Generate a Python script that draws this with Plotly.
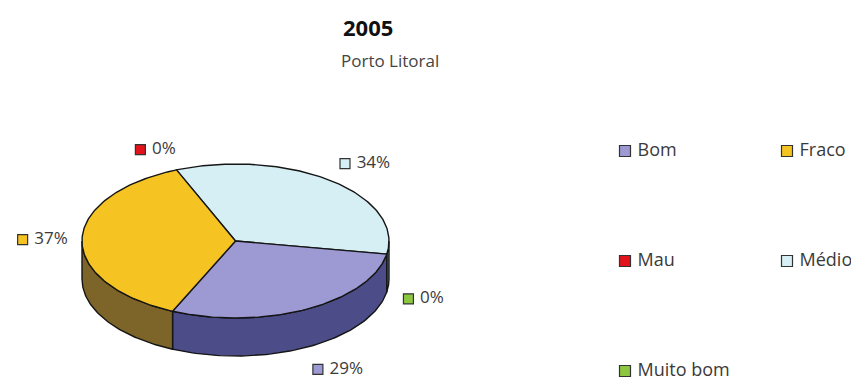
import numpy as np
import plotly.graph_objects as go

# ---- data -------------------------------------------------------------
categories = ["Bom", "Fraco", "Mau", "Médio", "Muito bom"]
percentages = [29, 37, 0, 34, 0]
top_colors = ["#9c99d3", "#f5c322", "#e3121b", "#d5eff4", "#8dc63f"]
side_colors = ["#4c4d88", "#7d6428", "#7a0a0e", "#6f8d93", "#4a6a20"]
clockwise_order = ["Médio", "Muito bom", "Bom", "Fraco", "Mau"]
title_text = "2005"
subtitle_text = "Porto Litoral"

# ---- geometry (pixel-like axis units) ----------------------------------
W, H = 851, 383
CX, CY, RX, RY, DEPTH = 235.5, 241.0, 153.5, 77.0, 38.0
START_ANGLE = -22.6          # degrees, clockwise from 12 o'clock
LABEL_GAP = 22
FRONT = (90.0, 270.0)        # visible part of the rim
OUTLINE = "#151515"
FONT = "Open Sans"
TEXT_COLOR = "#3a3a3a"
PAD = "\u00a0"               # small gap between colour key and text

LEG_X0, LEG_DX, LEG_Y0, LEG_DY, LEG_COLS = 625, 162, 151, 110, 2


def rim(a0, a1, drop=0.0, n=80):
    t = np.radians(np.linspace(a0, a1, n))
    return CX + RX * np.sin(t), CY - RY * np.cos(t) + drop


idx = {c: i for i, c in enumerate(categories)}
total = float(sum(percentages))

# angular extent of every slice
spans = []
a = START_ANGLE
for name in clockwise_order:
    i = idx[name]
    sweep = 360.0 * percentages[i] / total
    spans.append((name, a, a + sweep))
    a += sweep

fig = go.Figure()

# side walls of the front half
for name, a0, a1 in spans:
    lo, hi = max(a0, FRONT[0]), min(a1, FRONT[1])
    if hi <= lo:
        continue
    xt, yt = rim(lo, hi)
    xb, yb = rim(hi, lo, DEPTH)
    fig.add_trace(go.Scatter(
        x=np.concatenate([xt, xb, xt[:1]]),
        y=np.concatenate([yt, yb, yt[:1]]),
        mode="lines", fill="toself",
        fillcolor=side_colors[idx[name]],
        line=dict(color=OUTLINE, width=1.4),
        hoverinfo="skip", showlegend=False))

# top faces
for name, a0, a1 in spans:
    if a1 - a0 <= 0:
        continue
    xt, yt = rim(a0, a1, n=120)
    fig.add_trace(go.Scatter(
        x=np.concatenate([[CX], xt, [CX]]),
        y=np.concatenate([[CY], yt, [CY]]),
        mode="lines", fill="toself",
        fillcolor=top_colors[idx[name]],
        line=dict(color=OUTLINE, width=1.4),
        hoverinfo="text", text=f"{name}: {percentages[idx[name]]}%",
        showlegend=False))


# percentage labels with colour keys
def text_width(s, size=17):
    return sum(0.82 * size if ch == "%" else 0.572 * size for ch in s)


lx, ly, ltxt, lcol = [], [], [], []
for name, a0, a1 in spans:
    mid = np.radians((a0 + a1) / 2)
    s, c = np.sin(mid), np.cos(mid)
    x = CX + (RX + LABEL_GAP) * s
    y = CY - (RY + LABEL_GAP) * c + (DEPTH + 3 if c < 0 else 0)
    label = f"{percentages[idx[name]]}%"
    if s < 0:  # left side: label ends at the anchor
        x = x - text_width(label) - 4
    lx.append(x)
    ly.append(y)
    ltxt.append(PAD + label)
    lcol.append(top_colors[idx[name]])

fig.add_trace(go.Scatter(
    x=lx, y=ly, text=ltxt, mode="markers+text", textposition="middle right",
    marker=dict(symbol="square", size=10, color=lcol,
                line=dict(color="#333333", width=1.2)),
    textfont=dict(family=FONT, size=17, color=TEXT_COLOR),
    hoverinfo="skip", showlegend=False, cliponaxis=False))

# legend grid
gx = [LEG_X0 + (k % LEG_COLS) * LEG_DX for k in range(len(categories))]
gy = [LEG_Y0 + (k // LEG_COLS) * LEG_DY for k in range(len(categories))]
fig.add_trace(go.Scatter(
    x=gx, y=gy, text=[PAD + c for c in categories],
    mode="markers+text", textposition="middle right",
    marker=dict(symbol="square", size=11, color=top_colors,
                line=dict(color="#333333", width=1.2)),
    textfont=dict(family=FONT, size=18, color=TEXT_COLOR),
    hoverinfo="skip", showlegend=False, cliponaxis=False))

fig.update_layout(
    width=W, height=H,
    margin=dict(l=0, r=0, t=0, b=0),
    paper_bgcolor="white", plot_bgcolor="white",
    xaxis=dict(range=[0, W], visible=False, fixedrange=True),
    yaxis=dict(range=[H, 0], visible=False, fixedrange=True),
    annotations=[
        dict(x=341, y=27, xref="x", yref="y", text=f"<b>{title_text}</b>",
             showarrow=False, xanchor="left", yanchor="middle",
             font=dict(family=FONT, size=22, color="#111111")),
        dict(x=339, y=60, xref="x", yref="y", text=subtitle_text,
             showarrow=False, xanchor="left", yanchor="middle",
             font=dict(family=FONT, size=17, color="#444444")),
    ],
)

fig.write_html("out.html")
